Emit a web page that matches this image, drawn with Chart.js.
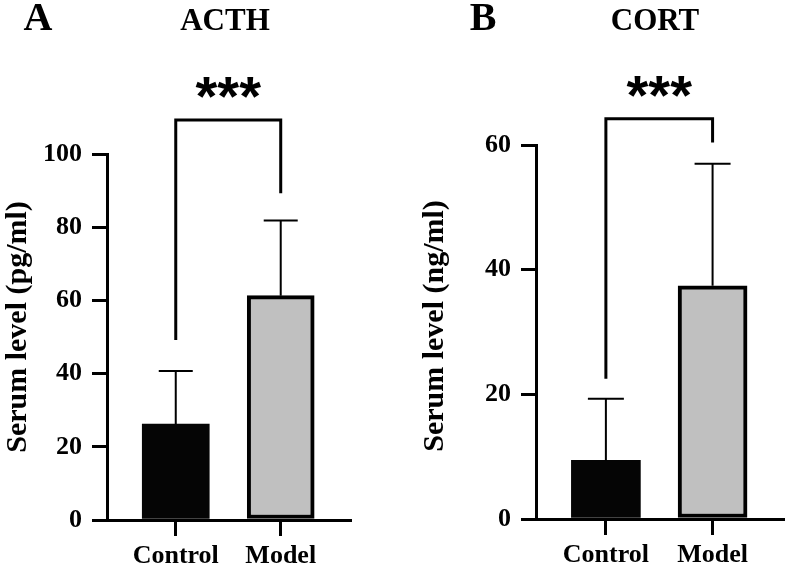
<!DOCTYPE html>
<html>
<head>
<meta charset="utf-8">
<script src="https://cdn.jsdelivr.net/npm/chart.js@4.4.1/dist/chart.umd.min.js"></script>
<style>
  html, body { margin:0; padding:0; background:#fff; }
  .wrap { position:relative; width:786px; height:567px; }
  .panel { position:absolute; top:0; width:393px; height:567px; }
</style>
</head>
<body>
<div class="wrap">
  <div class="panel" style="left:0"><canvas id="chartA" width="393" height="567"></canvas></div>
  <div class="panel" style="left:393px"><canvas id="chartB" width="393" height="567"></canvas></div>
</div>
<script>
// data
const groups = ['Control', 'Model'];
const acthMean = [26.2, 61.3];
const acthSd = [14.5, 20.5];
const acthBracket = [49.2, 109.3, 89.3];   // left leg end, top, right leg end
const cortMean = [9.4, 37.4];
const cortSd = [9.9, 19.6];
const cortBracket = [22.5, 64.2, 60.4];
const acthTicks = [0, 20, 40, 60, 80, 100];
const cortTicks = [0, 20, 40, 60];

const serif = "'Liberation Serif', 'Times New Roman', serif";

// error bars, bracket and text on top
const extras = {
  id: 'extras',
  afterDatasetsDraw(chart, args, o) {
    const ctx = chart.ctx, xs = chart.scales.x, ys = chart.scales.y;
    ctx.save();
    ctx.strokeStyle = '#000';
    ctx.lineCap = 'butt';
    // error bars (upper part only)
    ctx.lineWidth = 2;
    o.mean.forEach((m, i) => {
      const x = xs.getPixelForValue(i);
      const y0 = ys.getPixelForValue(m);
      const y1 = ys.getPixelForValue(m + o.sd[i]);
      ctx.beginPath();
      ctx.moveTo(x, y0); ctx.lineTo(x, y1);
      ctx.moveTo(x - o.cap, y1); ctx.lineTo(x + o.cap, y1);
      ctx.stroke();
    });
    // significance bracket
    const xl = xs.getPixelForValue(0), xr = xs.getPixelForValue(1);
    const yt = ys.getPixelForValue(o.bracket[1]);
    ctx.lineWidth = 3;
    ctx.beginPath();
    ctx.moveTo(xl, ys.getPixelForValue(o.bracket[0]));
    ctx.lineTo(xl, yt);
    ctx.lineTo(xr, yt);
    ctx.lineTo(xr, ys.getPixelForValue(o.bracket[2]));
    ctx.stroke();
    ctx.fillStyle = '#000';
    ctx.textAlign = 'center';
    ctx.textBaseline = 'middle';
    ctx.font = "bold 56px 'Liberation Sans', Arial, sans-serif";
    ctx.fillText('***', (xl + xr) / 2 + o.starDx, yt - 20);
    // titles
    ctx.font = 'bold 31px ' + serif;
    ctx.fillText(o.title, o.titleX, 22);
    ctx.font = 'bold 40px ' + serif;
    ctx.fillText(o.letter, o.letterX, 20);
    // y axis title
    ctx.save();
    ctx.translate(o.yTitleX, o.yTitleY);
    ctx.rotate(-Math.PI / 2);
    ctx.font = 'bold 30px ' + serif;
    ctx.fillText(o.yTitle, 0, 0);
    ctx.restore();
    ctx.restore();
  }
};

function makeChart(id, mean, cfg) {
  return new Chart(document.getElementById(id), {
    type: 'bar',
    data: {
      datasets: [{
        data: mean.map((v, i) => ({x: i, y: v})),
        backgroundColor: ['#050505', '#c0c0c0'],
        borderColor: '#000',
        borderWidth: [0, 4],
        borderSkipped: false,
        barThickness: cfg.barW
      }]
    },
    options: {
      responsive: false,
      animation: false,
      events: [],
      layout: { padding: { left: 0, right: cfg.right, top: cfg.top, bottom: 0 } },
      plugins: {
        legend: { display: false },
        tooltip: { enabled: false },
        extras: cfg.extras
      },
      scales: {
        x: {
          type: 'linear',
          offset: false,
          min: -0.655, max: 1.66,
          afterBuildTicks: s => { s.ticks = groups.map((g, i) => ({value: i})); },
          afterFit: s => { s.height = cfg.xH; },
          border: { color: '#000', width: 3 },
          grid: { offset: false, drawOnChartArea: false, color: '#000', lineWidth: 3, tickLength: 16 },
          ticks: { color: '#000', padding: 5, maxRotation: 0, font: { family: serif, size: 26, weight: 'bold' },
                   callback: v => groups[v] }
        },
        y: {
          min: 0, max: cfg.ticks[cfg.ticks.length - 1],
          afterBuildTicks: s => { s.ticks = cfg.ticks.map(v => ({value: v})); },
          afterFit: s => { s.width = cfg.yW; },
          border: { color: '#000', width: 3 },
          grid: { drawOnChartArea: false, color: '#000', lineWidth: 3, tickLength: 15 },
          ticks: { color: '#000', padding: 10, font: { family: serif, size: 26, weight: 'bold' } }
        }
      }
    },
    plugins: [extras]
  });
}

makeChart('chartA', acthMean, {
  barW: 67, right: 43, top: 154, xH: 47, yW: 107, ticks: acthTicks,
  extras: { mean: acthMean, sd: acthSd, bracket: acthBracket, cap: 17, starDx: 0,
            title: 'ACTH', titleX: 225, letter: 'A', letterX: 38,
            yTitle: 'Serum level (pg/ml)', yTitleX: 18, yTitleY: 327 }
});
makeChart('chartB', cortMean, {
  barW: 69, right: 3, top: 145, xH: 48, yW: 143, ticks: cortTicks,
  extras: { mean: cortMean, sd: cortSd, bracket: cortBracket, cap: 18, starDx: 0,
            title: 'CORT', titleX: 262, letter: 'B', letterX: 90,
            yTitle: 'Serum level (ng/ml)', yTitleX: 42, yTitleY: 326 }
});
</script>
</body>
</html>
